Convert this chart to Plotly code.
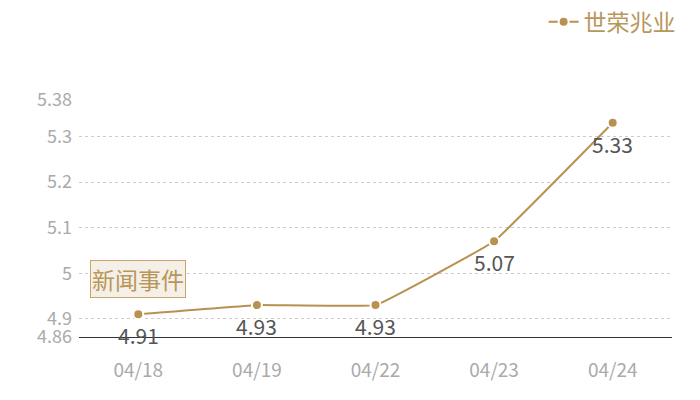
import plotly.graph_objects as go

# 世荣兆业 daily closing prices
dates = ["04/18", "04/19", "04/22", "04/23", "04/24"]
prices = [4.91, 4.93, 4.93, 5.07, 5.33]
y_ticks = [4.86, 4.9, 5.0, 5.1, 5.2, 5.3, 5.38]
y_tick_labels = ["4.86", "4.9", "5", "5.1", "5.2", "5.3", "5.38"]

GOLD = "#b8914f"
FONT = "Noto Sans CJK SC"

fig = go.Figure()
fig.add_trace(go.Scatter(
    x=dates,
    y=prices,
    name="世荣兆业",
    mode="lines+markers",
    line=dict(color=GOLD, width=2, shape="spline", smoothing=0.2),
    marker=dict(color=GOLD, size=10, line=dict(color="white", width=2)),
    cliponaxis=False,
))

# value labels under each point
for d, p in zip(dates, prices):
    fig.add_annotation(
        x=d, y=p, text=f"{p:.2f}", showarrow=False, yshift=-21,
        font=dict(family=FONT, size=21, color="#555555"),
    )

fig.add_annotation(
    x=dates[0], y=4.987, xref="x", yref="y",
    text="新闻事件", showarrow=False,
    font=dict(family=FONT, size=23, color="#b8975a"),
    bgcolor="#f4efe7", bordercolor="#c8a56c", borderwidth=1, borderpad=1,
)

# page body adds an 8px offset, so the figure is sized a bit smaller
fig.update_layout(
    width=692, height=392,
    margin=dict(l=71, r=28, t=92, b=63, autoexpand=False),
    paper_bgcolor="white", plot_bgcolor="white",
    font=dict(family=FONT),
    showlegend=True,
    legend=dict(
        xref="container", yref="container",
        x=0.972, y=0.965, xanchor="right", yanchor="middle",
        font=dict(family=FONT, size=23, color="#b8975a"),
        bgcolor="rgba(0,0,0,0)", itemwidth=30,
    ),
    xaxis=dict(
        type="category", automargin=False, range=[-0.5, len(dates) - 0.5],
        showgrid=False, showline=True, linecolor="#333333", linewidth=1,
        ticks="", tickfont=dict(family=FONT, size=19, color="#aaaaaa"),
        ticklabelstandoff=16,
    ),
    yaxis=dict(
        range=[4.86, 5.38], automargin=False,
        tickvals=y_ticks, ticktext=y_tick_labels,
        showgrid=True, gridcolor="#cccccc", griddash="dot", gridwidth=1,
        zeroline=False, showline=False, ticks="",
        tickfont=dict(family=FONT, size=18, color="#aaaaaa"),
        ticklabelstandoff=6,
    ),
)

fig.write_html("out.html")
